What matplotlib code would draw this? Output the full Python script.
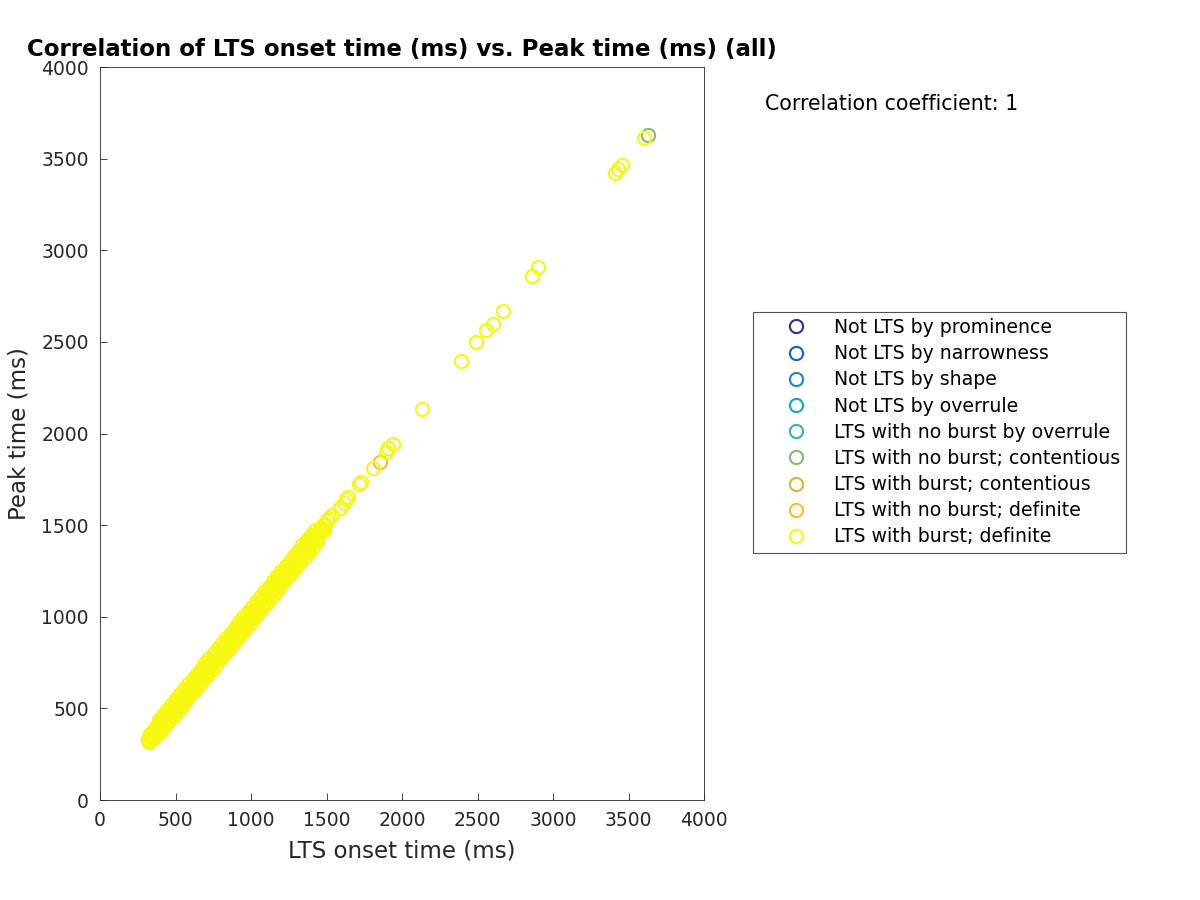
import matplotlib
matplotlib.use("Agg")
import matplotlib.pyplot as plt

# Legend categories and their colours (parula-like)
categories = [
    "Not LTS by prominence",
    "Not LTS by narrowness",
    "Not LTS by shape",
    "Not LTS by overrule",
    "LTS with no burst by overrule",
    "LTS with no burst; contentious",
    "LTS with burst; contentious",
    "LTS with no burst; definite",
    "LTS with burst; definite",
]
colors = ["#3e2a8f", "#0d5de0", "#1a84d9", "#0ba8c8", "#2db6a3",
          "#85bd69", "#d6b43f", "#fbbd2e", "#f6f80f"]

# Data points (onset, peak) in ms for each category (empty ones only show in the legend)
nb_contentious = [(3629, 3629)]
nb_definite = [(318, 327), (1854, 1846)]

burst_def_low = [
    (321, 325), (323, 345), (326, 318), (329, 342), (332, 360), (335, 333), (338, 355), (341, 349),
    (344, 332), (347, 372), (350, 351), (353, 372), (356, 351), (359, 370), (362, 386), (365, 369),
    (368, 390), (371, 363), (374, 387), (377, 405), (380, 378), (383, 400), (386, 394), (389, 377),
    (392, 417), (395, 396), (398, 417), (401, 396), (404, 415), (407, 431), (410, 414), (413, 435),
    (416, 408), (419, 432), (422, 450), (425, 423), (428, 445), (431, 439), (434, 422), (437, 462),
    (440, 441), (443, 462), (446, 441), (449, 460), (452, 476), (455, 459), (458, 480), (461, 453),
    (464, 477), (467, 495), (470, 468), (473, 490), (476, 484), (479, 467), (482, 507), (485, 486),
    (488, 507), (491, 486), (494, 505), (497, 521), (500, 504), (503, 525), (506, 498), (509, 522),
    (512, 540), (515, 513), (518, 535), (521, 529), (524, 512), (527, 552), (530, 531), (533, 552),
    (536, 531), (539, 550), (542, 566), (545, 549), (548, 570), (551, 543), (554, 567), (557, 585),
    (560, 558), (563, 580), (566, 574), (569, 557), (572, 597), (575, 576), (578, 597), (581, 576),
    (584, 595), (587, 611), (590, 594), (593, 615), (596, 588), (599, 612), (602, 630), (605, 603),
    (608, 625), (611, 619), (614, 602), (617, 642), (620, 621), (623, 642), (626, 621), (629, 640),
    (632, 656), (635, 639), (638, 660), (641, 633), (644, 657), (647, 675), (650, 648), (653, 670),
    (656, 664), (659, 647), (662, 687), (665, 666), (668, 687), (671, 666), (674, 685), (677, 701),
    (680, 684), (683, 705), (686, 678), (689, 702), (692, 720), (695, 693), (698, 715), (701, 709),
]
burst_def_mid = [
    (705, 693), (710, 735), (715, 716), (720, 739), (725, 720), (730, 741), (735, 759), (740, 744),
    (745, 767), (750, 742), (755, 768), (760, 788), (765, 763), (770, 787), (775, 783), (780, 768),
    (785, 810), (790, 791), (795, 814), (800, 795), (805, 816), (810, 834), (815, 819), (820, 842),
    (825, 817), (830, 843), (835, 863), (840, 838), (845, 862), (850, 858), (855, 843), (860, 885),
    (865, 866), (870, 889), (875, 870), (880, 891), (885, 909), (890, 894), (895, 917), (900, 892),
    (905, 918), (910, 938), (915, 913), (920, 937), (925, 933), (930, 918), (935, 960), (940, 941),
    (945, 964), (950, 945), (955, 966), (960, 984), (965, 969), (970, 992), (975, 967), (980, 993),
    (985, 1013), (990, 988), (995, 1012), (1000, 1008), (1005, 993), (1010, 1035), (1015, 1016),
    (1020, 1039), (1025, 1020), (1030, 1041), (1035, 1059), (1040, 1044), (1045, 1067), (1050, 1042),
    (1055, 1068), (1060, 1088), (1065, 1063), (1070, 1087), (1075, 1083), (1080, 1068), (1085, 1110),
    (1090, 1091), (1095, 1114), (1100, 1095),
]
burst_def_high = [
    (1108, 1119), (1116, 1140), (1124, 1128), (1132, 1146), (1140, 1168), (1148, 1140), (1156, 1178),
    (1164, 1168), (1172, 1164), (1180, 1200), (1188, 1186), (1196, 1214), (1204, 1200), (1212, 1226),
    (1220, 1244), (1228, 1232), (1236, 1258), (1244, 1236), (1252, 1265), (1260, 1288), (1268, 1266),
    (1276, 1293), (1284, 1292), (1292, 1280), (1300, 1325), (1308, 1309), (1316, 1335), (1324, 1319),
    (1332, 1343), (1340, 1364), (1348, 1352), (1356, 1378), (1364, 1356), (1372, 1385), (1380, 1408),
    (1388, 1386), (1396, 1413), (1404, 1412), (1412, 1400), (1420, 1445), (1428, 1429), (1436, 1455),
    (1444, 1439), (1452, 1463), (1460, 1484), (1468, 1472), (1476, 1498), (1484, 1476), (1492, 1505),
    (1500, 1528),
]
# points on the outer edges of the band
burst_def_edge = [
    (333, 350), (347, 335), (361, 390), (375, 352), (389, 437), (403, 375), (417, 465), (431, 403),
    (445, 493), (459, 431), (473, 521), (487, 459), (501, 549), (515, 487), (529, 577), (543, 515),
    (557, 605), (571, 543), (585, 633), (599, 571), (613, 661), (627, 599), (641, 689), (655, 627),
    (669, 717), (683, 655), (697, 745), (711, 683), (725, 773), (739, 711), (753, 801), (767, 739),
    (781, 829), (795, 767), (809, 857), (823, 795), (837, 885), (851, 823), (865, 913), (879, 851),
    (893, 941), (907, 879), (921, 969), (935, 907), (949, 997), (963, 935), (977, 1025), (991, 963),
    (1005, 1053), (1019, 991), (1033, 1081), (1047, 1019), (1061, 1109), (1075, 1047), (1089, 1137),
    (1103, 1075), (1117, 1165), (1131, 1103), (1145, 1193), (1159, 1131), (1173, 1221), (1187, 1159),
    (1201, 1249), (1215, 1187), (1229, 1277), (1243, 1215), (1257, 1305), (1271, 1243), (1285, 1333),
    (1299, 1271), (1313, 1361), (1327, 1299), (1341, 1389), (1355, 1327), (1369, 1417), (1383, 1355),
    (1397, 1445), (1411, 1383), (1425, 1473), (1439, 1411),
]
# sparse points further up
burst_def_sparse = [
    (1517, 1538), (1536, 1555), (1590, 1592), (1616, 1619), (1630, 1641),
    (1645, 1655), (1717, 1723), (1727, 1737), (1810, 1813), (1894, 1899),
    (1909, 1920), (1939, 1941), (2132, 2134), (2391, 2396), (2490, 2499),
    (2557, 2565), (2602, 2598), (2669, 2668), (2861, 2860), (2901, 2909),
    (3411, 3421), (3430, 3443), (3457, 3465), (3603, 3612),
]
burst_definite = (burst_def_low + burst_def_mid + burst_def_high
                  + burst_def_edge + burst_def_sparse)
points = [[], [], [], [], [], nb_contentious, [], nb_definite, burst_definite]

x_ticks = [0, 500, 1000, 1500, 2000, 2500, 3000, 3500, 4000]
y_ticks = [0, 500, 1000, 1500, 2000, 2500, 3000, 3500, 4000]
corr_text = "Correlation coefficient: 1"

plt.rcParams["font.family"] = ["DejaVu Sans"]

fig = plt.figure(figsize=(12, 9), dpi=100)
ax = fig.add_axes([100 / 1200, 100 / 900, 604 / 1200, 733 / 900])

handles = []
for label, col, pts in zip(categories, colors, points):
    xs = [p[0] for p in pts]
    ys = [p[1] for p in pts]
    h, = ax.plot(xs, ys, linestyle="none", marker="o", markersize=9.5,
                 markerfacecolor="none", markeredgecolor=col,
                 markeredgewidth=1.5, label=label)
    handles.append(h)

ax.set_xlim(0, 4000)
ax.set_ylim(0, 4000)
ax.set_xticks(x_ticks)
ax.set_yticks(y_ticks)
ax.tick_params(direction="in", length=5, width=0.6, labelsize=13.5,
               colors="#262626", top=False, right=False)
ax.tick_params(axis="x", pad=8)
ax.tick_params(axis="y", pad=8)
for sp in ax.spines.values():
    sp.set_linewidth(0.6)
    sp.set_color("#262626")

ax.set_xlabel("LTS onset time (ms)", fontsize=16.5, color="#262626", labelpad=7)
ax.set_ylabel("Peak time (ms)", fontsize=16.5, color="#262626", labelpad=8)
ax.set_title("Correlation of LTS onset time (ms) vs. Peak time (ms) (all)",
             fontsize=16.5, fontweight="bold", pad=8)

fig.text(765 / 1200, 1 - 104 / 900, corr_text, fontsize=14.8,
         ha="left", va="center")

leg = fig.legend(handles=handles, loc="upper left",
                 bbox_to_anchor=(753 / 1200, 1 - 312 / 900),
                 fontsize=13.6, frameon=True, fancybox=False,
                 borderpad=0.32, labelspacing=0.38, handlelength=3.9,
                 handletextpad=0.05, numpoints=1, borderaxespad=0)
leg.get_frame().set_edgecolor("#262626")
leg.get_frame().set_linewidth(0.8)

fig.savefig("out.png", dpi=100)
